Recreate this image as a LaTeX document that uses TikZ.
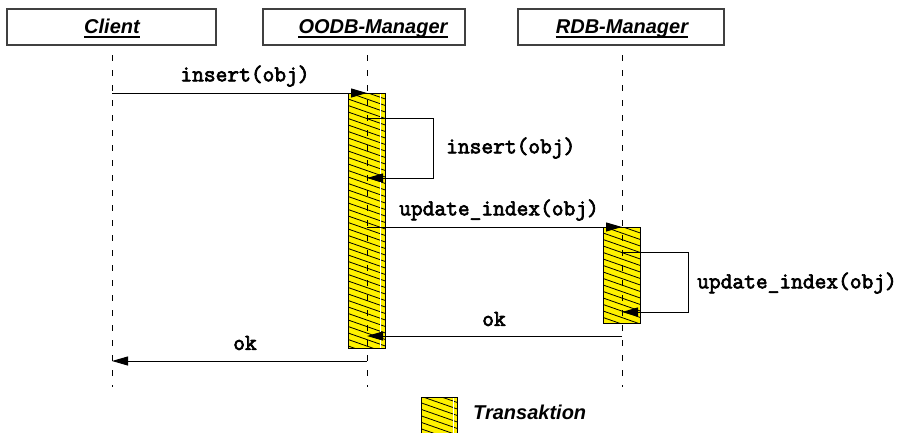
\documentclass[tikz,border=0pt]{standalone}
\usepackage{fontspec}
\newfontfamily\lsans{Liberation Sans}
\newfontfamily\cmono{Latin Modern Mono}[FakeBold=3]
\usetikzlibrary{arrows.meta}

\tikzset{
  objbox/.style={draw=black!75, line width=1.1pt, minimum width=#1, minimum height=36pt, inner sep=0pt},
  objlabel/.style={font=\lsans\bfseries\itshape\fontsize{20}{24}\selectfont, inner sep=0pt, anchor=base},
  uline/.style={line width=1.1pt},
  lifeline/.style={line width=0.9pt, dash pattern=on 6pt off 9pt},
  hatchfill/.style={draw=black, line width=0.9pt, fill=yellow,
    path picture={
      \foreach \k in {0,...,45}{
        \draw[line width=0.8pt] ([yshift=-\k*6.5pt+14pt]path picture bounding box.north west) -- ++(40pt,-14pt);
      }
    }},
  msg/.style={line width=1pt, -{Triangle[length=16pt,width=9pt]}},
  msglabel/.style={font=\cmono\fontsize{22.8}{26}\selectfont, inner sep=0pt},
}

\begin{document}
\begin{tikzpicture}[x=1pt, y=-1pt]
  \useasboundingbox (0,0) rectangle (904,432);

  % object heads
  \node[objbox=209pt] (clientbox) at (111.5,27) {};
  \node[objbox=202pt] (oodbbox) at (364,27) {};
  \node[objbox=206pt] (rdbbox) at (621,27) {};

  \node[objlabel] (clientlbl) at (112,33) {Client};
  \node[objlabel] (oodblbl) at (373,33) {OODB-Manager~};
  \node[objlabel] (rdblbl) at (622,33) {RDB-Manager};
  \draw[uline] ([yshift=-4pt]clientlbl.base west) -- ([yshift=-4pt]clientlbl.base east);
  \draw[uline] ([yshift=-4pt]oodblbl.base west) -- ([yshift=-4pt]oodblbl.base east);
  \draw[uline] ([yshift=-4pt]rdblbl.base west) -- ([yshift=-4pt]rdblbl.base east);

  % lifeline ends
  \coordinate (cl-top) at (112,55);
  \coordinate (cl-bot) at (112,387);
  \coordinate (oo-top) at (367,55);
  \coordinate (oo-bot) at (367,387);
  \coordinate (rd-top) at (622,55);
  \coordinate (rd-bot) at (622,387);

  % activation bars
  \node[hatchfill, minimum width=37pt, minimum height=255pt, inner sep=0pt, anchor=north] (oodbact) at (366.5,93) {};
  \draw[white, line width=1pt] ([xshift=-5pt,yshift=-1pt]oodbact.north east) -- ([xshift=-5pt,yshift=1pt]oodbact.south east);
  \node[hatchfill, minimum width=37pt, minimum height=96pt, inner sep=0pt, anchor=north] (rdbact) at (621.5,227) {};

  % lifelines
  \draw[lifeline] (cl-top) -- (cl-bot);
  \draw[lifeline] (oo-top) -- (oo-bot);
  \draw[lifeline] (rd-top) -- (rd-bot);

  % message points on the lifelines
  \coordinate (cl-insert) at (112,93);
  \coordinate (oo-insert) at (367,93);
  \coordinate (oo-self1) at (367,118);
  \coordinate (oo-self2) at (433,118);
  \coordinate (oo-self3) at (433,178);
  \coordinate (oo-self4) at (367,178);
  \coordinate (oo-upd) at (367,227);
  \coordinate (rd-upd) at (622,227);
  \coordinate (rd-self1) at (622,252);
  \coordinate (rd-self2) at (688,252);
  \coordinate (rd-self3) at (688,312);
  \coordinate (rd-self4) at (622,312);
  \coordinate (rd-ok) at (622,336);
  \coordinate (oo-ok) at (367,336);
  \coordinate (oo-ret) at (367,361);
  \coordinate (cl-ret) at (112,361);

  % messages
  \draw[msg] (cl-insert) -- (oo-insert);
  \draw[msg] (oo-self1) -- (oo-self2) -- (oo-self3) -- (oo-self4);
  \draw[msg] (oo-upd) -- (rd-upd);
  \draw[msg] (rd-self1) -- (rd-self2) -- (rd-self3) -- (rd-self4);
  \draw[msg] (rd-ok) -- (oo-ok);
  \draw[msg] (oo-ret) -- (cl-ret);

  % message labels
  \node[msglabel] (lbl-insert) at (245,76) {insert(obj)};
  \node[msglabel, anchor=west] (lbl-selfins) at (446,148) {insert(obj)};
  \node[msglabel] (lbl-upd) at (499,210) {update\_index(obj)};
  \node[msglabel, anchor=west] (lbl-selfupd) at (697,283) {update\_index(obj)};
  \node[msglabel] (lbl-ok1) at (494,319) {ok};
  \node[msglabel] (lbl-ok2) at (245,343) {ok};

  % legend
  \node[hatchfill, minimum width=36pt, minimum height=36pt, inner sep=0pt, anchor=north west] (legendbox) at (421,397) {};
  \draw[white, line width=1pt] ([xshift=-4pt,yshift=-1pt]legendbox.north east) -- ([xshift=-4pt,yshift=1pt]legendbox.south east);
  \node[font=\lsans\bfseries\itshape\fontsize{20}{24}\selectfont, anchor=west, inner sep=0pt] (legendtxt) at (473,412) {Transaktion};
\end{tikzpicture}
\end{document}
